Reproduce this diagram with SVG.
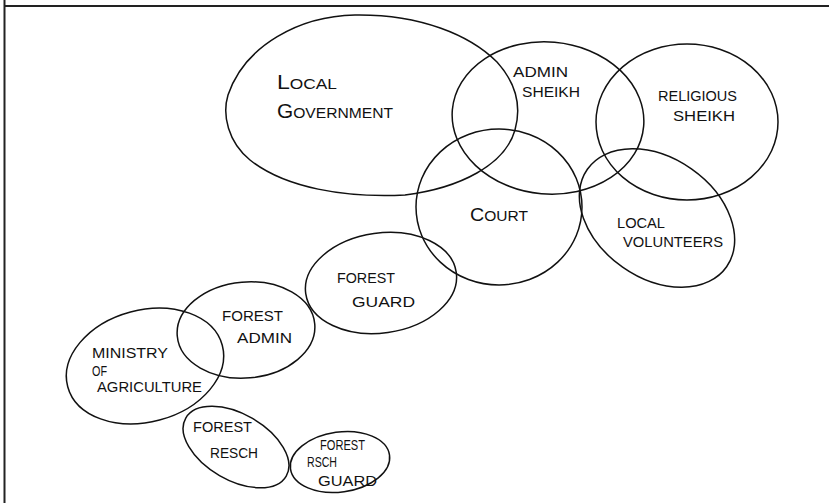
<svg xmlns="http://www.w3.org/2000/svg" width="829" height="503" viewBox="0 0 829 503">
<style>
.o{fill:none;stroke:#111;stroke-width:1.5}
.t{font-family:"Liberation Sans",Arial,sans-serif;fill:#111;font-size:15px}
</style>
<rect width="829" height="503" fill="#fff"/>
<g id="frame">
<line x1="4.5" y1="0" x2="4.5" y2="503" stroke="#222" stroke-width="2"/>
<line x1="4" y1="6" x2="829" y2="6" stroke="#222" stroke-width="2"/>
</g>
<g id="local-government">
<path class="o" d="M355 15 C420 14,470 35,497 62 C515 82,522 105,515 130 C505 165,460 188,405 195 C345 198,285 188,250 160 C228 142,222 115,228 95 C245 45,300 16,355 15 Z"/>
<text class="t" x="277" y="89" textLength="60" lengthAdjust="spacingAndGlyphs"><tspan font-size="20">L</tspan>OCAL</text>
<text class="t" x="277" y="118" textLength="116" lengthAdjust="spacingAndGlyphs"><tspan font-size="20">G</tspan>OVERNMENT</text>
</g>
<g id="admin-sheikh">
<ellipse class="o" cx="548" cy="118" rx="96" ry="76" transform="rotate(5 548 118)"/>
<text class="t" x="513" y="77" textLength="55" lengthAdjust="spacingAndGlyphs" font-size="17">ADMIN</text>
<text class="t" x="522" y="97" textLength="58" lengthAdjust="spacingAndGlyphs" font-size="16">SHEIKH</text>
</g>
<g id="religious-sheikh">
<ellipse class="o" cx="687" cy="122" rx="91" ry="78"/>
<text class="t" x="658" y="101" textLength="79" lengthAdjust="spacingAndGlyphs" font-size="16">RELIGIOUS</text>
<text class="t" x="673" y="121" textLength="62" lengthAdjust="spacingAndGlyphs" font-size="16">SHEIKH</text>
</g>
<g id="court">
<ellipse class="o" cx="499" cy="207" rx="83" ry="78"/>
<text class="t" x="470" y="221" textLength="58" lengthAdjust="spacingAndGlyphs" font-size="17"><tspan font-size="19">C</tspan>OURT</text>
</g>
<g id="local-volunteers">
<ellipse class="o" cx="657" cy="218" rx="85" ry="60" transform="rotate(35 657 218)"/>
<text class="t" x="617" y="228" textLength="48" lengthAdjust="spacingAndGlyphs" font-size="15">LOCAL</text>
<text class="t" x="623" y="247" textLength="100" lengthAdjust="spacingAndGlyphs" font-size="15">VOLUNTEERS</text>
</g>
<g id="forest-guard">
<ellipse class="o" cx="381" cy="283" rx="76" ry="50" transform="rotate(-8 381 283)"/>
<text class="t" x="337" y="283" textLength="58" lengthAdjust="spacingAndGlyphs" font-size="15">FOREST</text>
<text class="t" x="352" y="307" textLength="63" lengthAdjust="spacingAndGlyphs" font-size="17">GUARD</text>
</g>
<g id="forest-admin">
<ellipse class="o" cx="246" cy="330" rx="69" ry="48" transform="rotate(-5 246 330)"/>
<text class="t" x="222" y="321" textLength="61" lengthAdjust="spacingAndGlyphs" font-size="17">FOREST</text>
<text class="t" x="237" y="343" textLength="55" lengthAdjust="spacingAndGlyphs" font-size="17">ADMIN</text>
</g>
<g id="ministry-of-agriculture">
<ellipse class="o" cx="145" cy="366" rx="80" ry="56" transform="rotate(-15 145 366)"/>
<text class="t" x="92" y="358" textLength="76" lengthAdjust="spacingAndGlyphs" font-size="15">MINISTRY</text>
<text class="t" x="92" y="376" textLength="15" lengthAdjust="spacingAndGlyphs" font-size="12">OF</text>
<text class="t" x="97" y="392" textLength="105" lengthAdjust="spacingAndGlyphs" font-size="14">AGRICULTURE</text>
</g>
<g id="forest-resch">
<ellipse class="o" cx="236" cy="447" rx="58" ry="33" transform="rotate(30 236 447)"/>
<text class="t" x="193" y="432" textLength="59" lengthAdjust="spacingAndGlyphs" font-size="17">FOREST</text>
<text class="t" x="210" y="458" textLength="48" lengthAdjust="spacingAndGlyphs" font-size="19">RESCH</text>
</g>
<g id="forest-rsch-guard">
<ellipse class="o" cx="340" cy="462" rx="50" ry="30" transform="rotate(-8 340 462)"/>
<text class="t" x="320" y="450" textLength="45" lengthAdjust="spacingAndGlyphs" font-size="11">FOREST</text>
<text class="t" x="307" y="467" textLength="30" lengthAdjust="spacingAndGlyphs" font-size="11">RSCH</text>
<text class="t" x="318" y="486" textLength="59" lengthAdjust="spacingAndGlyphs" font-size="15">GUARD</text>
</g>
</svg>
